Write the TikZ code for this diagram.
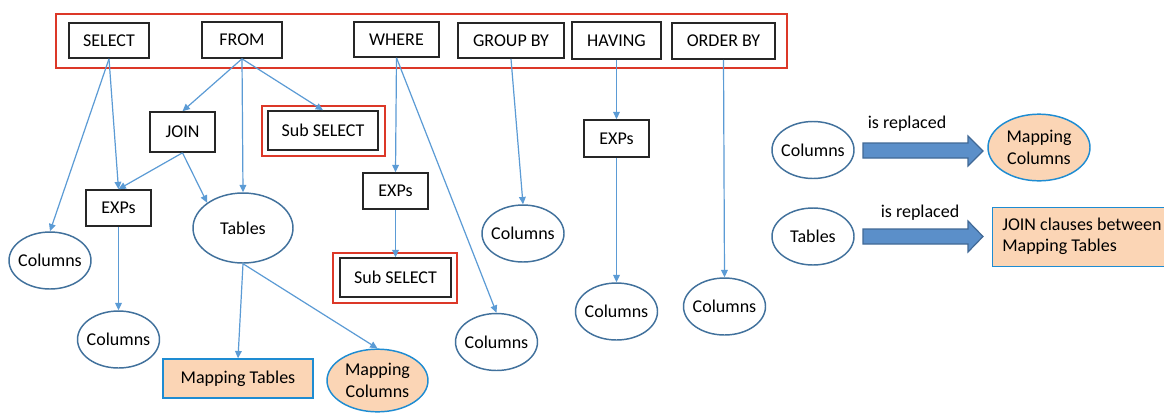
\documentclass[tikz,border=0pt]{standalone}
\usepackage{fontspec}
\setmainfont{Carlito}
\usetikzlibrary{arrows.meta,shapes.geometric}
\definecolor{lineblue}{RGB}{91,155,213}
\definecolor{ellblue}{RGB}{65,113,156}
\definecolor{mapblue}{RGB}{30,140,210}
\definecolor{mapfill}{RGB}{251,213,181}
\definecolor{boxred}{RGB}{220,56,40}
\definecolor{bigfill}{RGB}{91,143,201}
\definecolor{bigdraw}{RGB}{65,105,150}
\tikzset{
  every node/.style={font=\fontsize{13.5}{16}\selectfont, text=black},
  kbox/.style={draw=black!85, line width=1.2pt, rectangle, inner sep=0pt},
  ell/.style={draw=ellblue, line width=1.1pt, ellipse, inner xsep=-4pt, inner ysep=0pt, minimum width=61.5pt, minimum height=42.75pt},
  mapell/.style={draw=mapblue, fill=mapfill, line width=1.1pt, ellipse, inner xsep=-3pt, inner ysep=0pt, align=center},
  mapbox/.style={draw=mapblue, fill=mapfill, line width=1.1pt, rectangle, inner sep=0pt},
  conn/.style={draw=lineblue, line width=0.9pt, -{Triangle[length=5.5pt,width=5pt]}},
  redbox/.style={draw=boxred, line width=1.4pt},
  bigarrow/.style={fill=bigfill, draw=bigdraw, line width=0.9pt, line join=miter}
}
\begin{document}
\begin{tikzpicture}[x=0.75pt,y=-0.75pt]
\clip (0,0) rectangle (1164,412);
\fill[white] (0,0) rectangle (1164,412);
% top clause row
\draw[redbox] (56,14) rectangle (787,68);
\node[kbox, minimum width=60pt, minimum height=26.25pt] (select) at (109,40.5) {SELECT};
\node[kbox, minimum width=60pt, minimum height=27pt] (from) at (242,40) {FROM};
\node[kbox, minimum width=63.75pt, minimum height=26.25pt] (where) at (396.5,39.5) {WHERE};
\node[kbox, minimum width=79.5pt, minimum height=26.25pt] (groupby) at (511,40.5) {GROUP BY};
\node[kbox, minimum width=66.75pt, minimum height=27.75pt] (having) at (616.5,40.5) {HAVING};
\node[kbox, minimum width=77.25pt, minimum height=27pt] (orderby) at (723.5,41) {ORDER BY};
% second level
\node[kbox, minimum width=48.75pt, minimum height=30pt] (join) at (182.5,132) {JOIN};
\node[kbox, minimum width=82.5pt, minimum height=29.25pt] (sub1) at (323,130.5) {Sub SELECT};
\draw[redbox] ([shift={(-5,-4)}]sub1.north west) rectangle ([shift={(6,5)}]sub1.south east);
\node[kbox, minimum width=48.75pt, minimum height=27pt] (expL) at (118.5,208) {EXPs};
\node[ell, minimum width=75pt, minimum height=52.5pt] (tables) at (243,228) {Tables};
\node[ell] (col1) at (50,260.5) {Columns};
\node[ell] (col2) at (118.5,339.5) {Columns};
\node[mapbox, minimum width=112.5pt, minimum height=29.25pt] (mt) at (238,378.5) {Mapping Tables};
\node[mapell, minimum width=75.75pt, minimum height=47pt] (mc) at (377.5,380.5) {Mapping\\Columns};
\node[kbox, minimum width=48.75pt, minimum height=27pt] (expW) at (395.5,191) {EXPs};
\node[kbox, minimum width=83.25pt, minimum height=29.25pt] (sub2) at (395.5,277.5) {Sub SELECT};
\draw[redbox] ([shift={(-6,-4)}]sub2.north west) rectangle ([shift={(5,5)}]sub2.south east);
\node[ell] (colW) at (496.5,342) {Columns};
\node[ell] (colG) at (523,233.5) {Columns};
\node[kbox, minimum width=48.75pt, minimum height=27.75pt] (expH) at (616.5,138.5) {EXPs};
\node[ell] (colH) at (616.5,311.5) {Columns};
\node[ell] (colO) at (724.5,306.5) {Columns};
% connectors
\draw[conn] (select.south) -- (col1.north);
\draw[conn] (select.south) -- (expL.north);
\draw[conn] (from.south) -- (join.north);
\draw[conn] (from.south) -- (tables.north);
\draw[conn] (from.south) -- (sub1.north);
\draw[conn] (join.south) -- (expL.north);
\draw[conn] (join.south) -- (tables.north west);
\draw[conn] (expL.south) -- (col2.north);
\draw[conn] (tables.south) -- (mt.north);
\draw[conn] (tables.south) -- (mc.north);
\draw[conn] (where.south) -- (expW.north);
\draw[conn] (where.south) -- (colW.north);
\draw[conn] (expW.south) -- (sub2.north);
\draw[conn] (groupby.south) -- (colG.north);
\draw[conn] (having.south) -- (expH.north);
\draw[conn] (expH.south) -- (colH.north);
\draw[conn] (orderby.south) -- (colO.north);
% legend
\node[ell] (lcol) at (813,150) {Columns};
\node[mapell, minimum width=76.5pt, minimum height=50pt] (lmc) at (1039,147.5) {Mapping\\Columns};
\node[ell] (ltab) at (813,236.5) {Tables};
\node[mapbox, minimum width=141pt, minimum height=44.25pt, anchor=north west] (ljoin) at (992,207) {};
\node[anchor=west, align=left, inner sep=0pt] (ljointext) at (1002,236.5) {JOIN clauses between\\Mapping Tables};
\draw[bigarrow] (863,143) -- (968,143) -- (968,136) -- (983,151) -- (968,166) -- (968,158) -- (863,158) -- cycle;
\draw[bigarrow] (863,229) -- (968,229) -- (968,221) -- (983,236.5) -- (968,252) -- (968,244) -- (863,244) -- cycle;
\node (lab1) at (907,124) {is replaced};
\node (lab2) at (920,213) {is replaced};
\end{tikzpicture}
\end{document}
